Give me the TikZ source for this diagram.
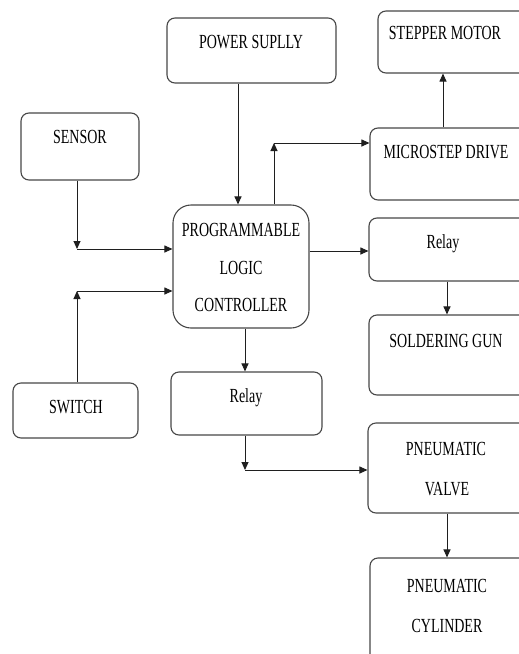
\documentclass[tikz,border=0pt]{standalone}
\usepackage{fontspec}
\setmainfont{Liberation Serif}[FakeStretch=0.70]
\usetikzlibrary{arrows.meta}
\begin{document}
\begin{tikzpicture}[x=1pt,y=-1pt,
  box/.style={draw=black!72, line width=1.1pt, rounded corners=8pt, inner sep=0pt},
  lbl/.style={font=\fontsize{20}{20}\selectfont, inner sep=0pt, anchor=base},
  arr/.style={draw=black!88, line width=1pt, -{Triangle[length=8pt,width=7pt]}}]
\useasboundingbox (0,0) rectangle (519,654);
\clip (0,0) rectangle (519,654);
% boxes
\node[box, minimum width=169pt, minimum height=65pt] (ps) at (251.5,50.5) {};
\node[box, minimum width=152pt, minimum height=62pt] (sm) at (454,42) {};
\node[box, minimum width=118pt, minimum height=67pt] (sen) at (80,146.5) {};
\node[box, minimum width=160pt, minimum height=72pt] (md) at (450,164) {};
\node[box, rounded corners=18pt, minimum width=136pt, minimum height=123pt] (plc) at (241,266.5) {};
\node[box, minimum width=161pt, minimum height=63pt] (r1) at (449.5,249.5) {};
\node[box, minimum width=161pt, minimum height=80pt] (sg) at (449.5,355) {};
\node[box, minimum width=125pt, minimum height=55pt] (sw) at (75.5,410.5) {};
\node[box, minimum width=151pt, minimum height=63pt] (r2) at (246.5,403.5) {};
\node[box, minimum width=162pt, minimum height=90pt] (pv) at (449,468) {};
\node[box, minimum width=160pt, minimum height=122pt] (pc) at (450,619) {};
% labels
\node[lbl] (tps) at (251,48.5) {POWER SUPLLY};
\node[lbl] (tsm) at (445,39.5) {STEPPER MOTOR};
\node[lbl] (tsen) at (80,143.5) {SENSOR};
\node[lbl] (tmd) at (446,158.5) {MICROSTEP DRIVE};
\node[lbl] (tplca) at (241,236.5) {PROGRAMMABLE};
\node[lbl] (tplcb) at (241,274.5) {LOGIC};
\node[lbl] (tplcc) at (241,311.5) {CONTROLLER};
\node[lbl] (tr1) at (443,248) {Relay};
\node[lbl] (tsg) at (446,347) {SOLDERING GUN};
\node[lbl] (tsw) at (76,413) {SWITCH};
\node[lbl] (tr2) at (246,402) {Relay};
\node[lbl] (tpva) at (446,455) {PNEUMATIC};
\node[lbl] (tpvb) at (447,495) {VALVE};
\node[lbl] (tpca) at (447,592) {PNEUMATIC};
\node[lbl] (tpcb) at (447,632) {CYLINDER};
% helper coordinates
\coordinate (xa) at (238,0);
\coordinate (xs) at (77,0);
\coordinate (ya) at (0,249);
\coordinate (yb) at (0,291);
\coordinate (xm) at (274,0);
\coordinate (ym) at (0,143);
\coordinate (xst) at (443,0);
\coordinate (yr) at (0,251);
\coordinate (xr) at (447,0);
\coordinate (xb) at (245,0);
\coordinate (yv) at (0,470);
\coordinate (xv) at (447,0);
% connectors
\draw[arr] (ps.south -| xa) -- (plc.north -| xa);
\draw[arr] (sen.south -| xs) -- (xs |- ya) coordinate (sj);
\draw[arr] (sj) -- (plc.west |- ya);
\draw[arr] (sw.north -| xs) -- (xs |- yb) coordinate (wj);
\draw[arr] (wj) -- (plc.west |- yb);
\draw[arr] (plc.north -| xm) -- (xm |- ym) coordinate (mj);
\draw[arr] (mj) -- (md.west |- ym);
\draw[arr] (md.north -| xst) -- (sm.south -| xst);
\draw[arr] (plc.east |- yr) -- (r1.west |- yr);
\draw[arr] (r1.south -| xr) -- (sg.north -| xr);
\draw[arr] (plc.south -| xb) -- (r2.north -| xb);
\draw[arr] (r2.south -| xb) -- (xb |- yv) coordinate (vj);
\draw[arr] (vj) -- (pv.west |- yv);
\draw[arr] (pv.south -| xv) -- (pc.north -| xv);
\end{tikzpicture}
\end{document}
